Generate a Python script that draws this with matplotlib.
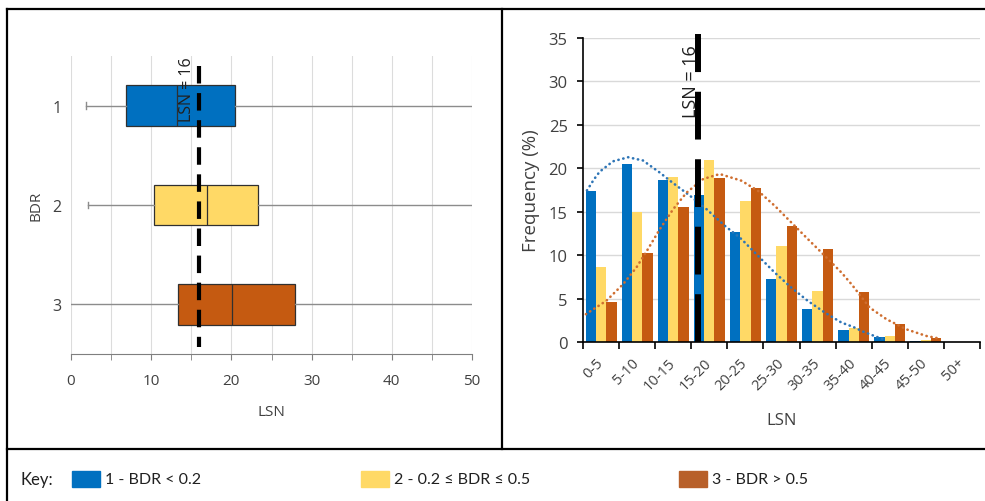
import numpy as np
import matplotlib
matplotlib.use('Agg')
import matplotlib.pyplot as plt
from matplotlib.patches import Rectangle
from matplotlib.lines import Line2D

# box plot summary of LSN per BDR class
bdr_groups = [1, 2, 3]
lsn_min = [1.9, 2.1, 0.0]
lsn_q1 = [6.9, 10.4, 13.4]
lsn_med = [13.2, 16.9, 20.1]
lsn_q3 = [20.5, 23.3, 27.9]
lsn_max = [50.0, 50.0, 50.0]

# frequency (%) of LSN bins per BDR class
lsn_bins = ['0-5', '5-10', '10-15', '15-20', '20-25', '25-30', '30-35',
            '35-40', '40-45', '45-50', '50+']
freq_bdr1 = [17.4, 20.5, 18.7, 16.9, 12.7, 7.3, 3.8, 1.4, 0.6, 0.15, 0]
freq_bdr2 = [8.6, 15.0, 19.0, 20.9, 16.2, 11.0, 5.9, 1.65, 0.7, 0.25, 0]
freq_bdr3 = [4.6, 10.2, 15.6, 18.9, 17.7, 13.4, 10.7, 5.8, 2.1, 0.5, 0]

# trend curves (bin position, %) for classes 1 and 3
trend1_pos = [-0.39, -0.2, -0.04, 0.33, 0.75, 1.16, 1.63, 1.9, 2.46, 2.92, 3.43, 3.89,
              4.35, 4.81, 5.27, 5.73, 6.2, 6.66, 6.98, 7.26, 7.63, 7.86]
trend1_val = [17.45, 18.7, 19.6, 20.8, 21.27, 20.9, 19.5, 18.6, 16.85, 15.3, 13.38, 11.85,
              9.92, 8.0, 6.27, 4.73, 3.39, 2.24, 1.75, 1.2, 0.6, 0.3]
trend3_pos = [-0.42, 0.15, 0.61, 0.98, 1.3, 1.63, 2.0, 2.37, 2.83, 3.29, 3.89,
              4.35, 4.81, 5.27, 5.73, 6.2, 6.66, 6.95, 7.44, 7.91, 8.46, 9.01, 9.38]
trend3_val = [3.2, 4.76, 6.65, 8.58, 10.7, 13.0, 15.3, 17.2, 18.77, 19.34, 18.57,
              17.4, 15.69, 13.77, 11.85, 9.92, 8.0, 6.6, 3.97, 2.62, 1.46, 0.7, 0.39]

lsn_threshold = 16
key_labels = ['1 - BDR < 0.2', '2 - 0.2 \u2264 BDR \u2264 0.5', '3 - BDR > 0.5']

blue = '#0070C0'
yellow = '#FFD966'
orange = '#C55A11'
colors = [blue, yellow, orange]

plt.rcParams['font.family'] = ['Open Sans', 'DejaVu Sans']
txt = '#404040'

W, H = 985, 502
fig = plt.figure(figsize=(W / 100, H / 100), dpi=100)


def fx(x):
    return x / W


def fy(y):
    return 1 - y / H


# frame around the panels and the key
for (x0, y0, x1, y1) in [(7, 10, 985, 10), (7, 450, 985, 450),
                         (7, 10, 7, 502), (502, 10, 502, 450)]:
    fig.add_artist(Line2D([fx(x0), fx(x1)], [fy(y0), fy(y1)], color='black', lw=1.6))

# ---- left: box plot ----
ax1 = fig.add_axes([fx(71), fy(355), fx(472) - fx(71), fy(57) - fy(355)])
stats = []
for i in range(3):
    stats.append(dict(whislo=lsn_min[i], q1=lsn_q1[i], med=lsn_med[i],
                      q3=lsn_q3[i], whishi=lsn_max[i], fliers=[]))
bp = ax1.bxp(stats, positions=bdr_groups, orientation='horizontal', widths=0.41,
             patch_artist=True, showfliers=False, capwidths=0.07,
             boxprops=dict(edgecolor='#303030', linewidth=0.9),
             medianprops=dict(color='#303030', linewidth=0.9),
             whiskerprops=dict(color='#8c8c8c', linewidth=1.0),
             capprops=dict(color='#8c8c8c', linewidth=1.0))
for patch, c in zip(bp['boxes'], colors):
    patch.set_facecolor(c)
for k, cap in enumerate(bp['caps']):
    if k % 2 == 1 or k == 4:
        cap.set_visible(False)

ax1.plot([lsn_threshold, lsn_threshold], [0.6, 3.43], color='black', lw=3,
         dashes=(4.2, 2.3), zorder=5)
ax1.text(14.5, 0.83, 'LSN = 16', rotation=90, ha='center', va='center',
         fontsize=11.5, color='#202020', zorder=6)

ax1.set_xlim(0, 50)
ax1.set_ylim(3.5, 0.5)
ax1.set_xticks(range(0, 51, 10))
ax1.set_xticks(range(5, 50, 10), minor=True)
ax1.set_yticks(bdr_groups)
ax1.set_yticklabels([str(g) for g in bdr_groups])
ax1.grid(axis='x', which='both', color='#dcdcdc', lw=0.8)
ax1.set_axisbelow(True)
for s in ['top', 'right', 'left']:
    ax1.spines[s].set_visible(False)
ax1.spines['bottom'].set_color('#7f7f7f')
ax1.tick_params(axis='x', which='both', direction='out', length=4, color='#7f7f7f',
                labelsize=11, labelcolor=txt, pad=10)
ax1.tick_params(axis='y', length=0, labelsize=11.5, labelcolor=txt, pad=7)
ax1.set_xlabel('LSN', fontsize=11, color=txt, labelpad=11)
ax1.set_ylabel('BDR', fontsize=11, color=txt, labelpad=6)

# ---- right: frequency histogram ----
ax2 = fig.add_axes([fx(583), fy(343), fx(980) - fx(583), fy(39) - fy(343)])
xi = np.arange(len(lsn_bins))
w = 1 / 3.5
for k, (vals, c) in enumerate(zip([freq_bdr1, freq_bdr2, freq_bdr3], colors)):
    ax2.bar(xi + (k - 1) * w, vals, width=w, color=c, zorder=2)

dots = (0, (0.1, 1.8))
ax2.plot(trend1_pos, trend1_val, color='#2E75B6', lw=1.9, linestyle=dots,
         dash_capstyle='round', zorder=3)
ax2.plot(trend3_pos, trend3_val, color='#CF6E30', lw=1.9, linestyle=dots,
         dash_capstyle='round', zorder=3)

xl = lsn_threshold / 5 - 0.5
ax2.plot([xl, xl], [0, 35.5], color='black', lw=4.3, dashes=(8, 3.3),
         zorder=5, clip_on=False)
ax2.text(2.48, 30.1, 'LSN = 16', rotation=90, ha='center', va='center',
         fontsize=13, color='#202020', zorder=6)

ax2.set_xlim(-0.5, 10.5)
ax2.set_ylim(0, 35)
ax2.set_yticks(range(0, 36, 5))
ax2.set_xticks(xi)
ax2.set_xticklabels(lsn_bins, rotation=45, ha='right', va='center',
                    rotation_mode='anchor')
ax2.set_xticks(np.arange(-0.5, 11, 1), minor=True)
ax2.grid(axis='y', color='#d9d9d9', lw=1.0, zorder=0)
ax2.set_axisbelow(True)
for s in ['top', 'right']:
    ax2.spines[s].set_visible(False)
for s in ['left', 'bottom']:
    ax2.spines[s].set_color('black')
    ax2.spines[s].set_linewidth(1.2)
ax2.tick_params(axis='x', which='major', length=0, labelsize=10.5, labelcolor=txt, pad=13)
ax2.tick_params(axis='x', which='minor', length=5, width=1.2, direction='out')
ax2.tick_params(axis='y', length=4, width=1.2, direction='out', labelsize=12,
                labelcolor=txt, pad=7)
ax2.set_xlabel('LSN', fontsize=12, color=txt, labelpad=14)
ax2.set_ylabel('Frequency (%)', fontsize=13.5, color=txt, labelpad=6)

# ---- key ----
key_font = ['Lato', 'DejaVu Sans']
fig.text(fx(21), fy(480), 'Key:', family=key_font, fontsize=12, va='center', color='#202020')
key_colors = [blue, yellow, '#B8602A']
key_x = [72, 361, 679]
for x0, c, lab in zip(key_x, key_colors, key_labels):
    fig.add_artist(Rectangle((fx(x0), fy(488)), fx(28), 16 / H, color=c))
    fig.text(fx(x0 + 33), fy(480), lab, family=key_font, fontsize=11.5,
             va='center', color='#202020')

fig.savefig('out.png', dpi=100)
